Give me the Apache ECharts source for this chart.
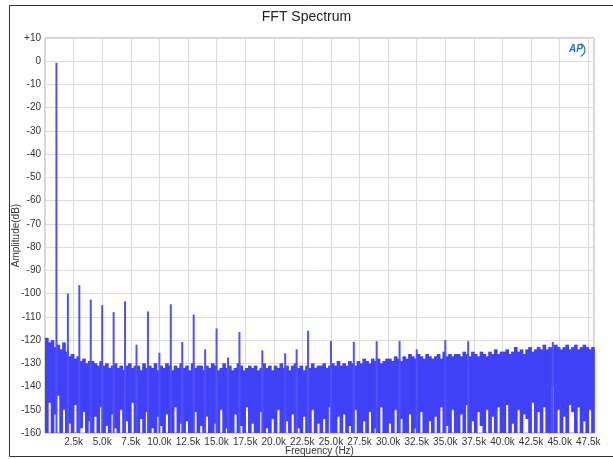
<!DOCTYPE html>
<html lang="en">
<head>
  <meta charset="UTF-8">
  <title>FFT Spectrum</title>
  <style>
    html,body{margin:0;padding:0;background:#fff;}
    #main{width:613px;height:459px;}
  </style>
</head>
<body>
  <div id="main"></div>
  <script src="https://cdn.jsdelivr.net/npm/echarts@6/dist/echarts.min.js"></script>
  <script>
    const chart=echarts.init(document.querySelector('#main'));

    // harmonics (Hz, dB)
    const harmFreq=[1000,2000,3000,4000,5000,6000,7000,8000,9000,10000,11000,12000,13000,14000,15000,16000,
      17000,19000,21000,22000,23000,25000,27000,29000,31000,32500,35000,37000,44400];
    const harmAmp=[-0.6,-100,-96.4,-102.6,-105,-108,-103.3,-122,-107.7,-125.5,-104.6,-120.8,-109,-124,-115,-127.5,
      -116.5,-124.4,-125.7,-124,-116,-120.4,-120.8,-120.5,-120.4,-124,-120,-120.5,-120.8];

    // noise floor, one value per 250 Hz bin (top and bottom of the band)
    const binStep=250;
    const noiseTop=[
      -119,-121,-120,-123,-122,-124,-121,-125,
      -127,-126,-128,-127,-129,-128,-130,-129,
      -129,-130,-131,-129,-131,-130,-132,-131,
      -130,-132,-131,-133,-131,-130,-132,-131,
      -131,-133,-130,-132,-131,-132,-130,-133,
      -131,-132,-130,-131,-133,-131,-132,-130,
      -132,-131,-133,-130,-132,-131,-131,-133,
      -131,-132,-130,-131,-133,-132,-130,-132,
      -131,-133,-132,-130,-131,-133,-132,-131,
      -132,-131,-133,-132,-130,-132,-131,-133,
      -131,-132,-130,-132,-131,-133,-131,-130,
      -132,-131,-133,-131,-132,-130,-132,-131,
      -131,-130,-132,-131,-130,-131,-129,-131,
      -130,-131,-129,-130,-131,-129,-130,-128,
      -129,-130,-128,-129,-128,-130,-129,-128,
      -128,-129,-127,-128,-129,-127,-128,-126,
      -127,-128,-126,-127,-128,-126,-127,-128,
      -127,-126,-128,-125,-127,-126,-127,-126,
      -126,-127,-125,-126,-127,-125,-126,-127,
      -125,-126,-127,-125,-126,-124,-126,-125,
      -125,-124,-126,-125,-123,-125,-124,-126,
      -124,-123,-125,-124,-123,-124,-122,-124,
      -123,-124,-122,-123,-124,-123,-122,-124,
      -123,-122,-124,-123,-122,-123,-124,-123
    ];
    const noiseLow=[
      -160,-147,-160,-152,-144,-160,-150,-160,
      -156,-160,-148,-160,-158,-151,-160,-155,
      -160,-153,-160,-149,-160,-157,-160,-152,
      -158,-160,-150,-160,-155,-160,-147,-160,
      -160,-154,-160,-151,-160,-158,-160,-153,
      -157,-160,-152,-160,-160,-149,-160,-156,
      -160,-155,-160,-160,-151,-160,-157,-160,
      -153,-160,-160,-156,-160,-150,-160,-158,
      -160,-160,-152,-160,-157,-160,-149,-160,
      -156,-160,-160,-151,-160,-158,-160,-154,
      -160,-150,-160,-160,-155,-160,-152,-160,
      -158,-160,-153,-160,-160,-150,-160,-156,
      -160,-154,-160,-149,-160,-160,-153,-160,
      -152,-160,-157,-160,-150,-160,-160,-155,
      -160,-151,-160,-158,-160,-149,-160,-160,
      -156,-160,-150,-160,-154,-160,-160,-152,
      -160,-158,-160,-151,-160,-160,-155,-160,
      -153,-160,-149,-160,-157,-160,-150,-160,
      -160,-152,-160,-148,-160,-155,-160,-151,
      -157,-160,-150,-160,-153,-160,-149,-160,
      -160,-148,-160,-156,-160,-150,-160,-152,
      -154,-160,-147,-160,-151,-160,-149,-160,
      -160,-140,-160,-150,-160,-153,-160,-148,
      -151,-160,-149,-160,-155,-160,-150,-160
    ];

    const noiseData=noiseTop.map((t,i)=>[i*binStep,noiseLow[i],t]);
    const harmData=harmFreq.map((f,i)=>[f,harmAmp[i]]);

    const font='Liberation Sans';

    const option={
      animation:false,
      title:{
        text:'FFT Spectrum',
        left:'center',
        top:5,
        textStyle:{fontFamily:font,fontSize:14,fontWeight:'normal',color:'#222'}
      },
      grid:{left:45,top:38,right:19,bottom:26,outerBoundsMode:'none',containLabel:false,
        show:true,borderColor:'#a8a8a8',borderWidth:1},
      xAxis:{
        type:'value',
        min:0,
        max:48000,
        interval:2500,
        name:'Frequency (Hz)',
        nameLocation:'middle',
        nameGap:13,
        nameMoveOverlap:false,
        nameTextStyle:{fontFamily:font,fontSize:10,color:'#333'},
        axisLine:{show:false},
        axisTick:{show:false},
        axisLabel:{
          fontFamily:font,fontSize:10,color:'#333',margin:4,showMaxLabel:false,
          formatter:v=>v===0?'':(v/1000).toFixed(1)+'k'
        },
        splitLine:{lineStyle:{color:'#dcdcdc'}}
      },
      yAxis:{
        type:'value',
        min:-160,
        max:10,
        interval:10,
        name:'Amplitude(dB)',
        nameLocation:'middle',
        nameGap:24,
        nameMoveOverlap:false,
        nameTextStyle:{fontFamily:font,fontSize:10,color:'#333'},
        axisLine:{show:false},
        axisTick:{show:false},
        axisLabel:{
          fontFamily:font,fontSize:10,color:'#333',margin:4,
          formatter:v=>v>0?'+'+v:String(v)
        },
        splitLine:{lineStyle:{color:'#dcdcdc'}}
      },
      series:[
        {
          name:'noise',
          type:'custom',
          data:noiseData,
          encode:{x:0,y:[1,2]},
          renderItem:(params,api)=>{
            const f=api.value(0);
            const p1=api.coord([f,api.value(2)]);
            const p2=api.coord([f+binStep,api.value(1)]);
            return {
              type:'rect',
              shape:{x:p1[0],y:p1[1],width:p2[0]-p1[0]+0.8,height:p2[1]-p1[1]},
              style:{fill:'#4141f8'}
            };
          },
          z:2
        },
        {
          name:'harmonics',
          type:'custom',
          data:harmData,
          encode:{x:0,y:1},
          renderItem:(params,api)=>{
            const f=api.value(0);
            const top=api.coord([f,api.value(1)]);
            const bot=api.coord([f,-160]);
            return {
              type:'line',
              shape:{x1:top[0],y1:top[1],x2:bot[0],y2:bot[1]},
              style:{stroke:'#5050ff',lineWidth:2}
            };
          },
          z:3
        }
      ],
      graphic:[
        {
          type:'polyline',
          shape:{points:[[613,5.5],[9.5,5.5],[9.5,456.5],[613,456.5]]},
          style:{stroke:'#333',fill:null,lineWidth:1},
          silent:true
        },
        {
          type:'text',
          left:569,
          top:44,
          style:{text:'AP',fontFamily:font,fontSize:10,fontStyle:'italic',fontWeight:'bold',fill:'#2a6fc9'},
          silent:true
        },
        {
          type:'arc',
          shape:{cx:578,cy:50,r:7,startAngle:-1.2,endAngle:1.2},
          style:{stroke:'#2a6fc9',lineWidth:1.2,fill:null},
          silent:true
        }
      ]
    };
    chart.setOption(option);
  </script>
</body>
</html>
